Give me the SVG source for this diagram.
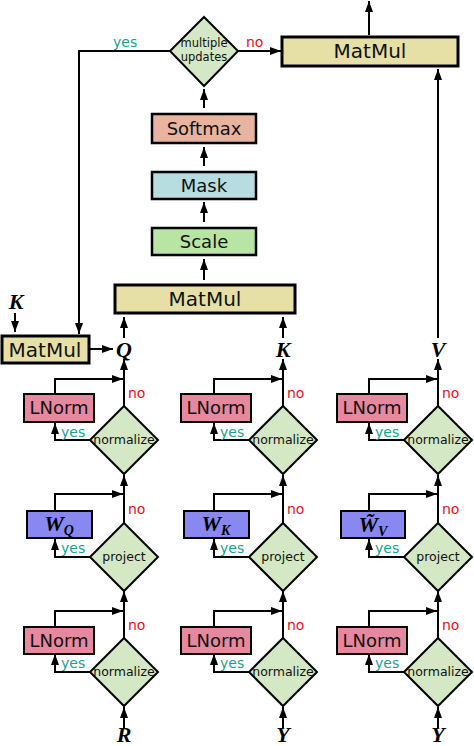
<svg xmlns="http://www.w3.org/2000/svg" width="474" height="746" viewBox="0 0 474 746">
<defs>
<marker id="ah" markerUnits="userSpaceOnUse" markerWidth="11" markerHeight="10" viewBox="0 0 11 10" refX="11" refY="5" orient="auto">
<path d="M0,1 L11,5 L0,9 z" fill="#000"/>
</marker>
</defs>
<style>
.c{fill:none;stroke:#000;stroke-width:2;marker-end:url(#ah)}
.mm{fill:#e6e0a6;stroke:#000;stroke-width:3}
.ln{fill:#e6889f;stroke:#000;stroke-width:2}
.w{fill:#8888f0;stroke:#000;stroke-width:2}
.d{fill:#d5e8c5;stroke:#000;stroke-width:2}
.t{font-family:"DejaVu Sans",sans-serif;fill:#111;text-anchor:middle}
.big{font-size:20px}
.mid{font-size:18px}
.sm{font-size:12.5px}
.yes{font-family:"DejaVu Sans",sans-serif;font-size:14px;fill:#1aa090}
.no{font-family:"DejaVu Sans",sans-serif;font-size:14px;fill:#e8101e}
.m{font-family:"Liberation Serif",serif;font-weight:bold;font-style:italic;text-anchor:middle;fill:#000}
</style>

<g id="connectors">
<line class="c" x1="369" y1="35" x2="369" y2="1"/>
<line class="c" x1="238" y1="51" x2="281" y2="51"/>
<polyline class="c" points="170,51 79,51 79,334"/>
<line class="c" x1="438" y1="338" x2="438" y2="69"/>
<line class="c" x1="204" y1="108" x2="204" y2="89"/>
<line class="c" x1="204" y1="166" x2="204" y2="147"/>
<line class="c" x1="204" y1="222" x2="204" y2="202"/>
<line class="c" x1="204" y1="280" x2="204" y2="259"/>
<line class="c" x1="124" y1="338" x2="124" y2="317"/>
<line class="c" x1="283" y1="338" x2="283" y2="317"/>
<line class="c" x1="15" y1="313" x2="15" y2="332"/>
<line class="c" x1="90" y1="349" x2="113" y2="349"/>

<line class="c" x1="124" y1="406" x2="124" y2="359"/>
<polyline class="c" points="55,394 55,379 123,379"/>
<polyline class="c" points="90,440 55,440 55,423"/>
<line class="c" x1="124" y1="523" x2="124" y2="475"/>
<polyline class="c" points="55,511 55,494 123,494"/>
<polyline class="c" points="90,557 55,557 55,539"/>
<line class="c" x1="124" y1="638" x2="124" y2="591"/>
<polyline class="c" points="55,627 55,611 123,611"/>
<polyline class="c" points="90,672 55,672 55,654"/>
<line class="c" x1="124" y1="728" x2="124" y2="707"/>

<line class="c" x1="283" y1="406" x2="283" y2="359"/>
<polyline class="c" points="214,394 214,379 282,379"/>
<polyline class="c" points="249,440 214,440 214,423"/>
<line class="c" x1="283" y1="523" x2="283" y2="475"/>
<polyline class="c" points="214,511 214,494 282,494"/>
<polyline class="c" points="249,557 214,557 214,539"/>
<line class="c" x1="283" y1="638" x2="283" y2="591"/>
<polyline class="c" points="214,627 214,611 282,611"/>
<polyline class="c" points="249,672 214,672 214,654"/>
<line class="c" x1="283" y1="728" x2="283" y2="707"/>

<line class="c" x1="438" y1="406" x2="438" y2="359"/>
<polyline class="c" points="369,394 369,379 437,379"/>
<polyline class="c" points="404,440 369,440 369,423"/>
<line class="c" x1="438" y1="523" x2="438" y2="475"/>
<polyline class="c" points="369,511 369,494 437,494"/>
<polyline class="c" points="404,557 369,557 369,539"/>
<line class="c" x1="438" y1="638" x2="438" y2="591"/>
<polyline class="c" points="369,627 369,611 437,611"/>
<polyline class="c" points="404,672 369,672 369,654"/>
<line class="c" x1="438" y1="728" x2="438" y2="707"/>

<text class="yes" x="113" y="47">yes</text>
<text class="no" x="246" y="47">no</text>
<text class="no" x="128" y="398">no</text>
<text class="no" x="128" y="514">no</text>
<text class="no" x="128" y="630">no</text>
<text class="yes" x="61" y="437">yes</text>
<text class="yes" x="61" y="553">yes</text>
<text class="yes" x="61" y="668">yes</text>
<text class="no" x="287" y="398">no</text>
<text class="no" x="287" y="514">no</text>
<text class="no" x="287" y="630">no</text>
<text class="yes" x="220" y="437">yes</text>
<text class="yes" x="220" y="553">yes</text>
<text class="yes" x="220" y="668">yes</text>
<text class="no" x="442" y="398">no</text>
<text class="no" x="442" y="514">no</text>
<text class="no" x="442" y="630">no</text>
<text class="yes" x="375" y="437">yes</text>
<text class="yes" x="375" y="553">yes</text>
<text class="yes" x="375" y="668">yes</text>
</g>

<g id="matmul-top"><rect class="mm" x="282" y="37" width="176" height="29"/><text class="t big" x="370" y="58">MatMul</text></g>
<g id="multiple-updates"><polygon class="d" points="204,17 238,51 204,86 170,51"/><text class="t" font-size="11.5" x="204" y="47">multiple</text><text class="t" font-size="11.5" x="204" y="61">updates</text></g>
<g id="softmax"><rect x="152" y="114" width="104" height="29" fill="#e8b4a0" stroke="#000" stroke-width="2.5"/><text class="t mid" x="204" y="135">Softmax</text></g>
<g id="mask"><rect x="152" y="172" width="104" height="27" fill="#b8dde0" stroke="#000" stroke-width="2.5"/><text class="t mid" x="204" y="192">Mask</text></g>
<g id="scale"><rect x="152" y="228" width="104" height="27" fill="#b8e4a4" stroke="#000" stroke-width="2.5"/><text class="t mid" x="204" y="248">Scale</text></g>
<g id="matmul-main"><rect class="mm" x="115" y="285" width="180" height="28"/><text class="t big" x="205" y="306">MatMul</text></g>
<g id="matmul-left"><rect class="mm" x="2" y="336" width="87" height="27" stroke-width="2.5"/><text class="t big" x="45" y="357">MatMul</text></g>
<g id="label-K-left"><text class="m" font-size="22" x="16" y="309">K</text></g>
<g id="label-Q"><text class="m" font-size="22" x="124" y="357">Q</text></g>
<g id="label-K"><text class="m" font-size="22" x="283" y="357">K</text></g>
<g id="label-V"><text class="m" font-size="22" x="438" y="357">V</text></g>

<g id="lnorm-q1"><rect class="ln" x="24" y="394" width="70" height="28"/><text class="t mid" x="59" y="414">LNorm</text></g>
<g id="normalize-q1"><polygon class="d" points="124,406 158,440 124,474 90,440"/><text class="t sm" x="124" y="444">normalize</text></g>
<g id="wq"><rect class="w" x="27" y="511" width="65" height="27"/><text class="m" x="59" y="531"><tspan font-size="22">W</tspan><tspan font-size="14" dy="4">Q</tspan></text></g>
<g id="project-q"><polygon class="d" points="124,523 158,557 124,591 90,557"/><text class="t sm" x="124" y="561">project</text></g>
<g id="lnorm-q2"><rect class="ln" x="24" y="627" width="70" height="27"/><text class="t mid" x="59" y="647">LNorm</text></g>
<g id="normalize-q2"><polygon class="d" points="124,638 158,672 124,706 90,672"/><text class="t sm" x="124" y="676">normalize</text></g>
<g id="label-R"><text class="m" font-size="22" x="124" y="742">R</text></g>

<g id="lnorm-k1"><rect class="ln" x="181" y="394" width="70" height="28"/><text class="t mid" x="216" y="414">LNorm</text></g>
<g id="normalize-k1"><polygon class="d" points="283,406 317,440 283,474 249,440"/><text class="t sm" x="283" y="444">normalize</text></g>
<g id="wk"><rect class="w" x="184" y="511" width="65" height="27"/><text class="m" x="216" y="531"><tspan font-size="22">W</tspan><tspan font-size="14" dy="4">K</tspan></text></g>
<g id="project-k"><polygon class="d" points="283,523 317,557 283,591 249,557"/><text class="t sm" x="283" y="561">project</text></g>
<g id="lnorm-k2"><rect class="ln" x="181" y="627" width="70" height="27"/><text class="t mid" x="216" y="647">LNorm</text></g>
<g id="normalize-k2"><polygon class="d" points="283,638 317,672 283,706 249,672"/><text class="t sm" x="283" y="676">normalize</text></g>
<g id="label-Y1"><text class="m" font-size="22" x="283" y="742">Y</text></g>

<g id="lnorm-v1"><rect class="ln" x="337" y="394" width="70" height="28"/><text class="t mid" x="372" y="414">LNorm</text></g>
<g id="normalize-v1"><polygon class="d" points="438,406 472,440 438,474 404,440"/><text class="t sm" x="438" y="444">normalize</text></g>
<g id="wv"><rect class="w" x="341" y="511" width="64" height="27"/><text class="m" x="373" y="532"><tspan font-size="22">W̃</tspan><tspan font-size="14" dy="4">V</tspan></text></g>
<g id="project-v"><polygon class="d" points="438,523 472,557 438,591 404,557"/><text class="t sm" x="438" y="561">project</text></g>
<g id="lnorm-v2"><rect class="ln" x="337" y="627" width="70" height="27"/><text class="t mid" x="372" y="647">LNorm</text></g>
<g id="normalize-v2"><polygon class="d" points="438,638 472,672 438,706 404,672"/><text class="t sm" x="438" y="676">normalize</text></g>
<g id="label-Y2"><text class="m" font-size="22" x="438" y="742">Y</text></g>
</svg>
